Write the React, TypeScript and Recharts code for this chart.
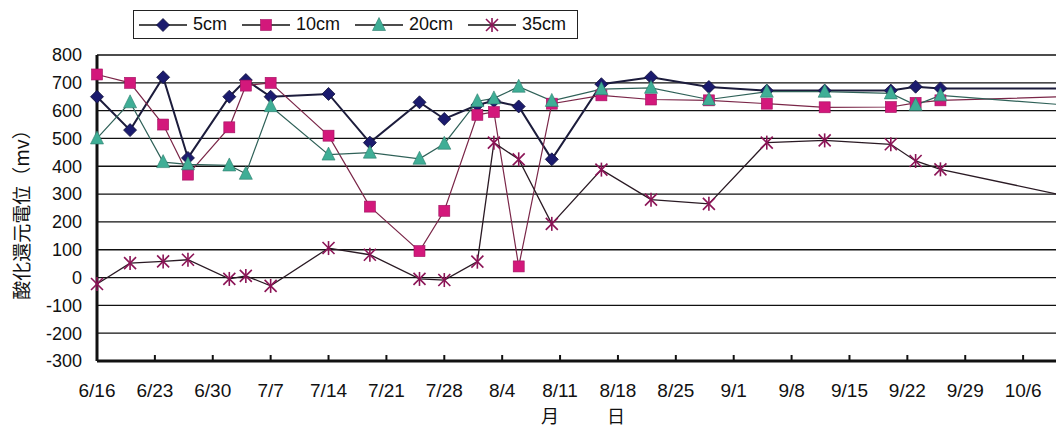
import { LineChart, Line, XAxis, YAxis, CartesianGrid, Legend, Label } from 'recharts'

// measurement dates (last one lies past the right edge of the picture)
const dates = [
  '6/16', '6/20', '6/24', '6/27', '7/2', '7/4', '7/7', '7/14', '7/19', '7/25', '7/28', '8/1',
  '8/3', '8/6', '8/10', '8/16', '8/22', '8/29', '9/5', '9/12', '9/20', '9/23', '9/26', '10/13',
]

const cm5 = [650, 530, 720, 430, 650, 710, 650, 660, 485, 630, 570, 620, 635, 615, 425, 695, 720, 685, 672, 672, 672, 686, 680, 680]
const cm10 = [730, 700, 550, 370, 540, 690, 700, 510, 255, 95, 240, 585, 595, 40, 625, 655, 640, 637, 625, 612, 613, 628, 637, 652]
const cm20 = [500, 630, 415, 407, 403, 373, 616, 442, 449, 427, 481, 634, 644, 686, 635, 677, 682, 640, 668, 668, 662, 620, 655, 616]
const cm35 = [-23, 52, 58, 64, -5, 6, -30, 106, 82, -5, -9, 57, 485, 425, 193, 388, 280, 265, 485, 493, 479, 419, 389, 282]

const tickLabels = ['6/16', '6/23', '6/30', '7/7', '7/14', '7/21', '7/28', '8/4', '8/11', '8/18', '8/25', '9/1', '9/8', '9/15', '9/22', '9/29', '10/6']
const yTicks = [-300, -200, -100, 0, 100, 200, 300, 400, 500, 600, 700, 800]

// days counted from 6/16
const monthStart: Record<number, number> = { 6: -15, 7: 15, 8: 46, 9: 77, 10: 107 }
const dayOf = (md: string) => {
  const [m, d] = md.split('/').map(Number)
  return monthStart[m] + d - 1
}

const data = dates.map((d, i) => ({ day: dayOf(d), s5: cm5[i], s10: cm10[i], s20: cm20[i], s35: cm35[i] }))
const xTicks = tickLabels.map(dayOf)

const FONT = '"Liberation Sans", Arial, sans-serif'
const JP = '"Noto Sans CJK JP", sans-serif'

type Shape = 'diamond' | 'square' | 'triangle' | 'star'

function Marker({ cx, cy, shape }: { cx: number; cy: number; shape: Shape }) {
  if (shape === 'diamond')
    return <polygon points={`${cx},${cy - 6.5} ${cx + 6.5},${cy} ${cx},${cy + 6.5} ${cx - 6.5},${cy}`} fill="#1b1b6e" stroke="#10103a" strokeWidth={0.8} />
  if (shape === 'square')
    return <rect x={cx - 5.5} y={cy - 5.5} width={11} height={11} fill="#d3187b" stroke="#a01060" strokeWidth={0.6} />
  if (shape === 'triangle')
    return <polygon points={`${cx},${cy - 7.5} ${cx + 6.5},${cy + 5.5} ${cx - 6.5},${cy + 5.5}`} fill="#3fae96" stroke="#2b7c6c" strokeWidth={0.6} />
  return (
    <g stroke="#8b1456" strokeWidth={1.6}>
      <line x1={cx} y1={cy - 7} x2={cx} y2={cy + 7} />
      <line x1={cx - 6} y1={cy - 6} x2={cx + 6} y2={cy + 6} />
      <line x1={cx + 6} y1={cy - 6} x2={cx - 6} y2={cy + 6} />
    </g>
  )
}

const series: { key: string; name: string; stroke: string; width: number; shape: Shape }[] = [
  { key: 's5', name: '5cm', stroke: '#1c1c3c', width: 2, shape: 'diamond' },
  { key: 's10', name: '10cm', stroke: '#7a2648', width: 1.2, shape: 'square' },
  { key: 's20', name: '20cm', stroke: '#2f6158', width: 1.2, shape: 'triangle' },
  { key: 's35', name: '35cm', stroke: '#2a1a24', width: 1.3, shape: 'star' },
]

function LegendBox() {
  return (
    <div
      style={{
        display: 'flex',
        alignItems: 'center',
        height: 29,
        boxSizing: 'border-box',
        border: '1.5px solid #222',
        paddingLeft: 5,
        paddingRight: 11,
        background: '#fff',
        fontFamily: FONT,
        fontSize: 18,
        color: '#111',
      }}
    >
      {series.map((s) => (
        <div key={s.key} style={{ display: 'flex', alignItems: 'center', marginRight: s.key === 's35' ? 0 : 15 }}>
          <svg width={48} height={16}>
            <line x1={0} y1={8} x2={48} y2={8} stroke="#111" strokeWidth={1.5} />
            <Marker cx={24} cy={8} shape={s.shape} />
          </svg>
          <span style={{ marginLeft: 6 }}>{s.name}</span>
        </div>
      ))}
    </div>
  )
}

function XTick({ x, y, payload }: any) {
  const label = tickLabels[xTicks.indexOf(payload.value)]
  return (
    <g>
      <line x1={x} y1={y - 6} x2={x} y2={y} stroke="#111" strokeWidth={2} />
      <text x={x} y={y + 36} textAnchor="middle" fontSize={19} fontFamily={FONT} fill="#111">
        {label}
      </text>
    </g>
  )
}

export default function App() {
  return (
    <div style={{ position: 'absolute', left: 0, top: 0, width: 1056, height: 433, overflow: 'hidden' }}>
      <LineChart width={1208} height={433} data={data} margin={{ top: 55, right: 127, bottom: 0, left: 0 }}>
        <CartesianGrid horizontal vertical={false} stroke="#111" strokeWidth={1.3} />
        <XAxis
          dataKey="day"
          type="number"
          domain={[0, 119]}
          ticks={xTicks}
          interval={0}
          height={72}
          tickSize={0}
          tickMargin={0}
          tickLine={false}
          axisLine={{ stroke: '#111', strokeWidth: 3 }}
          tick={<XTick />}
        >
          <Label
            content={() => (
              <g fontFamily={JP} fontSize={18} fill="#111">
                <text x={550} y={423} textAnchor="middle">月</text>
                <text x={616} y={423} textAnchor="middle">日</text>
              </g>
            )}
          />
        </XAxis>
        <YAxis
          domain={[-300, 800]}
          ticks={yTicks}
          interval={0}
          width={97}
          tickSize={0}
          tickMargin={15}
          tickLine={false}
          axisLine={{ stroke: '#111', strokeWidth: 3 }}
          tick={{ fontSize: 18, fontFamily: FONT, fill: '#111' }}
        >
          <Label
            content={() => (
              <text
                x={20}
                y={210}
                transform="rotate(-90, 20, 210)"
                textAnchor="middle"
                dominantBaseline="central"
                fontFamily={JP}
                fontSize={19}
                fill="#111"
              >
                酸化還元電位（mv）
              </text>
            )}
          />
        </YAxis>
        <Legend
          layout="horizontal"
          verticalAlign="middle"
          align="center"
          content={() => <LegendBox />}
          wrapperStyle={{ top: 10, left: 133, width: 'auto', height: 'auto' }}
        />
        {series.map((s) => (
          <Line
            key={s.key}
            dataKey={s.key}
            name={s.name}
            type="linear"
            stroke={s.stroke}
            strokeWidth={s.width}
            isAnimationActive={false}
            dot={(p: any) => <Marker key={`${s.key}-${p.index}`} cx={p.cx} cy={p.cy} shape={s.shape} />}
            activeDot={false}
          />
        ))}
      </LineChart>
    </div>
  )
}
